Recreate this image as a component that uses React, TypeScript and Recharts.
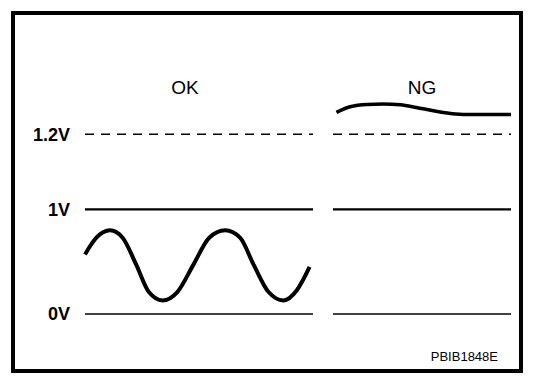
import React from 'react';
import { LineChart, Line, XAxis, YAxis, ReferenceLine } from 'recharts';

// sensor output, OK trace (time in ms, volts)
const OK_TIME = [0, 1, 2.2, 3.3, 4.5, 5.6, 6.8, 8.1, 9.5, 10.9, 12.3, 13.6, 14.8, 16.1, 17.4, 18.6, 19.7];
const OK_VOLTS = [0.57, 0.73, 0.8, 0.73, 0.47, 0.21, 0.13, 0.21, 0.47, 0.73, 0.8, 0.73, 0.47, 0.21, 0.13, 0.23, 0.45];

// NG trace stuck above the 1.2V limit
const NG_TIME = [0.3, 1.5, 3, 4.4, 5.9, 7.3, 8.8, 10.3, 11.7, 13.2, 15.6];
const NG_VOLTS = [1.258, 1.273, 1.279, 1.28, 1.278, 1.271, 1.262, 1.255, 1.252, 1.252, 1.252];

const LEVELS = [0, 1, 1.2];
const LEVEL_LABELS = ['0V', '1V', '1.2V'];

// schematic axis: the band above 1V is drawn stretched
const stretch = (v: number) => (v <= 1 ? v : 1 + (v - 1) * 3.6);

const Y_DOMAIN: [number, number] = [0, 2.2];
const MARGIN_V = { top: 84, bottom: 68 };
const FONT = '"Liberation Sans", Arial, sans-serif';

const okData = OK_TIME.map((t, i) => ({ t, level: stretch(OK_VOLTS[i]) }));
const ngData = NG_TIME.map((t, i) => ({ t, level: stretch(NG_VOLTS[i]) }));

const levelLabel = (v: number) => {
  const i = LEVELS.findIndex((l) => Math.abs(stretch(l) - v) < 1e-6);
  return i >= 0 ? LEVEL_LABELS[i] : '';
};

const refLines = () => [
  <ReferenceLine key='l0' y={stretch(0)} stroke='#000' strokeWidth={1.6} ifOverflow='extendDomain' />,
  <ReferenceLine key='l1' y={stretch(1)} stroke='#000' strokeWidth={2.2} />,
  <ReferenceLine key='l12' y={stretch(1.2)} stroke='#000' strokeWidth={1.4} strokeDasharray='9 7' />,
];

export default function App() {
  return (
    <div style={{ position: 'absolute', left: 0, top: 0, width: 560, height: 382, background: '#fff', fontFamily: FONT }}>
      <div
        style={{
          position: 'absolute',
          left: 11,
          top: 11,
          width: 512,
          height: 362,
          boxSizing: 'border-box',
          border: '4px solid #000',
        }}
      />

      <div style={{ position: 'absolute', left: 135, top: 78, width: 100, textAlign: 'center', fontSize: 19, lineHeight: '19px' }}>
        OK
      </div>
      <div style={{ position: 'absolute', left: 372, top: 78, width: 100, textAlign: 'center', fontSize: 19, lineHeight: '19px' }}>
        NG
      </div>

      <div style={{ position: 'absolute', left: 0, top: 0 }}>
        <LineChart width={330} height={382} data={okData} margin={{ ...MARGIN_V, left: 0, right: 17 }}>
          <XAxis type='number' dataKey='t' domain={[0, 20]} hide />
          <YAxis
            type='number'
            domain={Y_DOMAIN}
            ticks={LEVELS.map(stretch)}
            tickFormatter={levelLabel}
            width={85}
            axisLine={false}
            tickLine={false}
            tickMargin={9}
            tick={{ fill: '#000', fontSize: 18, fontWeight: 'bold', fontFamily: FONT }}
          />
          {refLines()}
          <Line
            type='monotone'
            dataKey='level'
            stroke='#000'
            strokeWidth={4}
            dot={false}
            isAnimationActive={false}
          />
        </LineChart>
      </div>

      <div style={{ position: 'absolute', left: 333, top: 0 }}>
        <LineChart width={178} height={382} data={ngData} margin={{ ...MARGIN_V, left: 0, right: 0 }}>
          <XAxis type='number' dataKey='t' domain={[0, 15.6]} hide />
          <YAxis type='number' domain={Y_DOMAIN} hide />
          {refLines()}
          <Line
            type='monotone'
            dataKey='level'
            stroke='#000'
            strokeWidth={3.5}
            dot={false}
            isAnimationActive={false}
          />
        </LineChart>
      </div>

      <div style={{ position: 'absolute', right: 62, top: 350, fontSize: 13, lineHeight: '13px' }}>PBIB1848E</div>
    </div>
  );
}
